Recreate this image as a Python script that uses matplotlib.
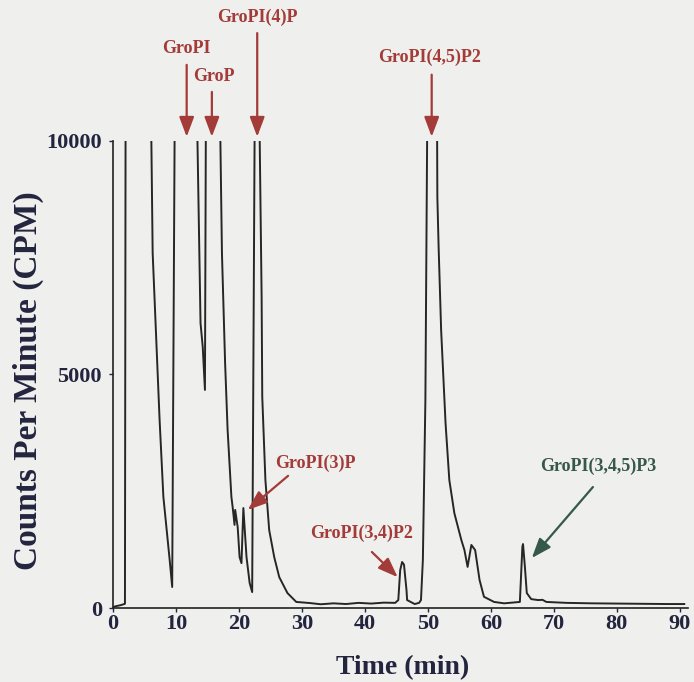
import matplotlib.pyplot as plt
import numpy as np

# HPLC trace (time in min, counts per minute)
# peaks above 10000 are off-scale in the original, 10500 marks "off the top"
time_min = [0.0, 0.5, 1.2, 1.9, 2.0, 6.05, 6.3, 7.4, 8.0, 9.0, 9.4, 9.8,
            13.35, 13.9, 14.25, 14.6, 14.75,
            17.0, 17.3, 17.8, 18.2, 18.8, 19.0, 19.3, 19.4, 19.8, 20.1, 20.4,
            20.7, 21.2, 21.7, 22.1, 22.5,
            23.25, 23.6, 23.7, 24.2, 24.8, 25.6, 26.4, 27.7, 29.1, 31.2,
            33.0, 35.0, 37.0, 39.0, 41.0, 43.0, 44.8,
            45.3, 45.6, 45.9, 46.2, 46.6, 46.7, 47.9, 48.6, 48.9, 49.2, 49.6, 49.9,
            51.45, 51.5, 51.7, 52.1, 52.8, 53.4, 54.2, 55.3, 55.8, 56.3, 56.9,
            57.5, 58.2, 58.9, 60.5, 62.1,
            64.6, 65.0, 65.1, 65.4, 65.7, 66.4, 67.5, 68.2, 68.8,
            72.0, 76.0, 80.0, 84.0, 88.0, 90.7]
cpm = [20, 40, 60, 90, 10500, 10500, 7600, 4030, 2380, 1030, 450, 10500,
       10500, 6100, 5590, 4670, 10500,
       10500, 7600, 5250, 3810, 2380, 2160, 1780, 2100, 1730, 1090, 960,
       2140, 1090, 535, 340, 10500,
       10500, 6660, 4520, 2740, 1670, 1090, 660, 320, 130, 107,
       80, 100, 85, 110, 95, 115, 110,
       170, 810, 985, 930, 385, 170, 85, 110, 170, 1030, 4450, 10500,
       10500, 8800, 7730, 5950, 3960, 2740, 2030, 1460, 1240, 880, 1350,
       1240, 600, 240, 130, 100,
       130, 1310, 1370, 880, 320, 190, 170, 175, 130,
       110, 100, 95, 90, 85, 85]

# peak labels: text, arrow tip (t, cpm), arrow tail (t, cpm), text pos (t, cpm)
red_labels = ['GroPI', 'GroP', 'GroPI(4)P', 'GroPI(4,5)P2', 'GroPI(3)P', 'GroPI(3,4)P2']
red_tips = [(11.7, 10090), (15.7, 10090), (22.9, 10090), (50.6, 10090), (21.4, 2100), (45.2, 660)]
red_tails = [(11.7, 11630), (15.7, 11050), (22.9, 12310), (50.6, 11420), (27.8, 2830), (41.1, 1200)]
red_text = [(11.6, 11990), (16.0, 11370), (23.0, 12640), (50.2, 11800), (32.1, 3100), (39.4, 1590)]

green_label = 'GroPI(3,4,5)P3'
green_tip = (66.5, 1070)
green_tail = (76.2, 2590)
green_text = (77.0, 3040)

bg = '#efefed'
red = '#a33b38'
green = '#35584a'
navy = '#23253f'

plt.rcParams['font.family'] = ['Liberation Serif', 'DejaVu Serif']
plt.rcParams['font.weight'] = 'bold'

fig = plt.figure(figsize=(6.94, 6.82), dpi=100, facecolor=bg)
ax = fig.add_axes([0.1628, 0.1085, 0.8286, 0.6848])
ax.set_facecolor(bg)

ax.plot(time_min, cpm, color='#262626', lw=1.4)

ax.set_xlim(0, 91.3)
ax.set_ylim(0, 10000)
ax.set_xticks(np.arange(0, 100, 10))
ax.set_yticks([0, 5000, 10000])
ax.tick_params(axis='both', direction='out', length=3, width=1, colors=navy,
               labelsize=16, pad=1)
ax.tick_params(axis='y', pad=5)
for lab in ax.get_xticklabels() + ax.get_yticklabels():
    lab.set_fontweight('bold')

for s in ['top', 'right']:
    ax.spines[s].set_visible(False)
for s in ['left', 'bottom']:
    ax.spines[s].set_color('#222222')
    ax.spines[s].set_linewidth(1.2)

ax.set_xlabel('Time (min)', fontsize=20, fontweight='bold', color=navy)
ax.xaxis.set_label_coords(0.504, -0.1)
ax.set_ylabel('Counts Per Minute (CPM)', fontsize=24, fontweight='bold', color=navy)
ax.yaxis.set_label_coords(-0.12, 0.486)

# arrows and peak names
arrow = dict(arrowstyle='-|>,head_length=0.8,head_width=0.3', lw=1.6,
             mutation_scale=15, shrinkA=0, shrinkB=0)
for name, tip, tail, pos in zip(red_labels, red_tips, red_tails, red_text):
    ax.annotate('', xy=tip, xytext=tail, annotation_clip=False,
                arrowprops=dict(arrow, color=red))
    ax.text(pos[0], pos[1], name, color=red, fontsize=13, fontweight='bold',
            ha='center', va='center', clip_on=False)

ax.annotate('', xy=green_tip, xytext=green_tail, annotation_clip=False,
            arrowprops=dict(arrow, color=green))
ax.text(green_text[0], green_text[1], green_label, color=green, fontsize=13,
        fontweight='bold', ha='center', va='center', clip_on=False)

fig.savefig('out.png', dpi=100, facecolor=bg)
